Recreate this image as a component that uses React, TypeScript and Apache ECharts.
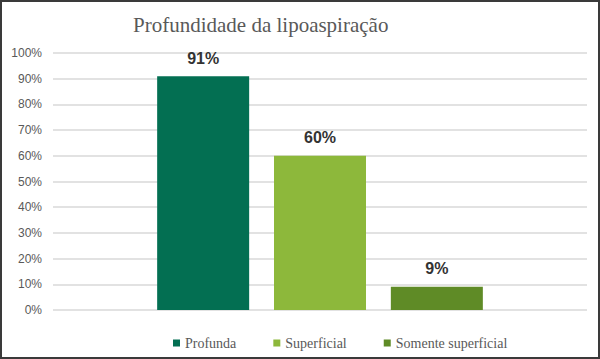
import React, { useEffect, useRef } from "react";
import * as echarts from "echarts";

const title = "Profundidade da lipoaspiração";
const seriesNames = ["Profunda", "Superficial", "Somente superficial"];
const seriesValues = [91, 60, 9];
const seriesColors = ["#036f52", "#8db83b", "#5f8b26"];
const category = ["Profundidade"];

export default function App() {
  const ref = useRef<HTMLDivElement>(null);
  useEffect(() => {
    document.body.style.margin = "0";
    const chart = echarts.init(ref.current!, null, { renderer: "svg" });
    chart.setOption({
      animation: false,
      backgroundColor: "#ffffff",
      title: {
        text: title,
        left: 126,
        top: 7,
        textStyle: {
          fontFamily: "'Liberation Serif', serif",
          fontWeight: "normal",
          fontSize: 21,
          color: "#595959",
        },
      },
      legend: {
        top: 334,
        left: 171,
        padding: 0,
        itemWidth: 7,
        itemHeight: 7,
        itemGap: 37,
        icon: "rect",
        textStyle: {
          fontFamily: "'Liberation Serif', serif",
          fontSize: 14,
          color: "#595959",
        },
        data: seriesNames,
      },
      grid: { left: 51, right: 11, top: 51, bottom: 47 },
      xAxis: {
        type: "category",
        data: category,
        axisLine: { show: false },
        axisTick: { show: false },
        axisLabel: { show: false },
      },
      yAxis: {
        type: "value",
        min: 0,
        max: 100,
        interval: 10,
        axisLine: { show: false },
        axisTick: { show: false },
        axisLabel: {
          formatter: "{value}%",
          fontFamily: "'Liberation Sans', Arial, sans-serif",
          fontSize: 12,
          color: "#595959",
          margin: 11,
        },
        splitLine: { lineStyle: { color: "#d9d9d9", width: 1.5 } },
      },
      series: seriesNames.map((name, i) => ({
        name,
        type: "bar",
        data: [seriesValues[i]],
        barWidth: 92,
        barGap: "27%",
        itemStyle: { color: seriesColors[i] },
        label: {
          show: true,
          position: "top",
          distance: 10,
          formatter: "{c}%",
          fontFamily: "'Liberation Sans', Arial, sans-serif",
          fontWeight: "bold",
          fontSize: 16,
          color: "#333333",
        },
      })),
    });
    return () => chart.dispose();
  }, []);
  return (
    <div
      ref={ref}
      style={{
        position: "absolute",
        left: 0,
        top: 0,
        width: 600,
        height: 359,
        boxSizing: "border-box",
        border: "2px solid #3a3a3a",
      }}
    />
  );
}
